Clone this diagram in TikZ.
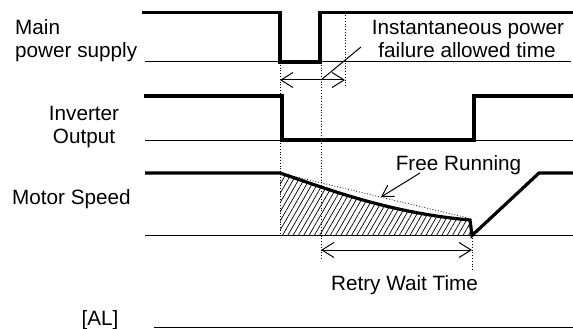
\documentclass[tikz,border=0pt]{standalone}
\usepackage{fontspec}
\setmainfont{Liberation Sans}
\usetikzlibrary{arrows.meta,patterns.meta}
\begin{document}
\begin{tikzpicture}[x=1pt,y=-1pt,
  thick sig/.style={line width=3.2pt,line join=miter},
  thin sig/.style={line width=1pt},
  guide/.style={line width=0.8pt,dotted},
  dimarrow/.style={line width=1pt,{Straight Barb[length=12pt,width=15pt]}-{Straight Barb[length=12pt,width=15pt]}},
  leader/.style={line width=1pt},
  lbl/.style={font=\fontsize{20.7}{24}\selectfont,inner sep=0pt,anchor=base west}]
\useasboundingbox (0,0) rectangle (573,329);
% coordinates
\coordinate (m0) at (142,12.5);
\coordinate (m1) at (280,12.5);
\coordinate (m2) at (280,62);
\coordinate (m3) at (320,62);
\coordinate (m4) at (320,12.5);
\coordinate (m5) at (573,12.5);
\coordinate (mb0) at (145,62);
\coordinate (mb1) at (571,62);
\coordinate (i0) at (144,96);
\coordinate (i1) at (282,96);
\coordinate (i2) at (282,140);
\coordinate (i3) at (474,140);
\coordinate (i4) at (474,96);
\coordinate (i5) at (573,96);
\coordinate (ib0) at (145,140);
\coordinate (ib1) at (573,140);
\coordinate (s0) at (145,173);
\coordinate (s1) at (280,173);
\coordinate (s2) at (470,220);
\coordinate (s3) at (472,235.5);
\coordinate (s4) at (539,173);
\coordinate (s5) at (573,173);
\coordinate (sb0) at (145,235.5);
\coordinate (sb1) at (573,235.5);
\coordinate (sb2) at (280,235.5);
\coordinate (a0) at (154,327.5);
\coordinate (a1) at (573,327.5);
% hatched area
\fill[pattern={Lines[angle=60,distance=4.6pt,line width=0.7pt]}]
  (sb2) -- (s1) .. controls (330,190) and (390,213) .. (s2) -- (s3) -- cycle;
% guides
\coordinate (g1a) at (280,62); \coordinate (g1b) at (280,235.5);
\coordinate (g2a) at (321,62); \coordinate (g2b) at (321,260);
\coordinate (g3a) at (345,12.5); \coordinate (g3b) at (345,87);
\coordinate (g4a) at (472,235.5); \coordinate (g4b) at (472,270);
\draw[guide] (g1a) -- (g1b);
\draw[guide] (g2a) -- (g2b);
\draw[guide] (g3a) -- (g3b);
\draw[guide] (g4a) -- (g4b);
\coordinate (fr0) at (280,173); \coordinate (fr1) at (468,218);
\draw[guide] (fr0) -- (fr1);
% baselines
\draw[thin sig] (mb0) -- (mb1);
\draw[thin sig] (ib0) -- (ib1);
\draw[thin sig] (sb0) -- (sb1);
\draw[thin sig] (a0) -- (a1);
% signals
\draw[thick sig] (m0) -- (m1) -- (m2) -- (m3) -- (m4) -- (m5);
\draw[thick sig] (i0) -- (i1) -- (i2) -- (i3) -- (i4) -- (i5);
\draw[thick sig] (s0) -- (s1) .. controls (330,190) and (390,213) .. (s2) -- (s3) -- (s4) -- (s5);
% dimension arrows
\coordinate (d1a) at (280,80); \coordinate (d1b) at (345,80);
\draw[dimarrow] (d1a) -- (d1b);
\coordinate (l1a) at (321,80); \coordinate (l1b) at (361,47);
\draw[leader] (l1a) -- (l1b);
\coordinate (d2a) at (321,250); \coordinate (d2b) at (472,250);
\draw[dimarrow] (d2a) -- (d2b);
\coordinate (fa0) at (420,173); \coordinate (fa1) at (381,197);
\draw[line width=1pt,-{Straight Barb[length=11pt,width=13pt]}] (fa0) -- (fa1);
% labels
\node[lbl] (tmain) at (15,35) {Main};
\node[lbl] (tps) at (15,58) {power supply};
\node[lbl,anchor=base] (tinv) at (84,120) {Inverter};
\node[lbl,anchor=base] (tout) at (84,143) {Output};
\node[lbl] (tms) at (12,204) {Motor Speed};
\node[lbl,anchor=base] (tal) at (100,325) {[AL]};
\node[lbl,anchor=base] (tip) at (468,35) {Instantaneous power};
\node[lbl,anchor=base] (tfa) at (467,57.5) {failure allowed time};
\node[lbl,anchor=base] (tfr) at (458.5,170) {Free Running};
\node[lbl,anchor=base] (trw) at (404.5,290) {Retry Wait Time};
\end{tikzpicture}
\end{document}
